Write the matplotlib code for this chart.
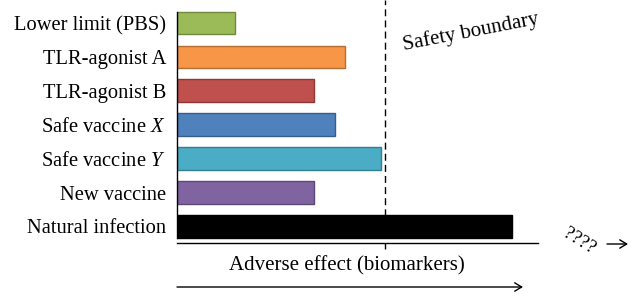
import matplotlib
matplotlib.use("Agg")
import matplotlib.pyplot as plt

plt.rcParams['font.family'] = ['Liberation Serif', 'DejaVu Serif']
plt.rcParams['mathtext.fontset'] = 'custom'
plt.rcParams['mathtext.rm'] = 'Liberation Serif'
plt.rcParams['mathtext.it'] = 'Liberation Serif:italic'

categories = ["Lower limit (PBS)", "TLR-agonist A", "TLR-agonist B",
              "Safe vaccine $X$", "Safe vaccine $Y$", "New vaccine", "Natural infection"]
values = [0.28, 0.81, 0.66, 0.76, 0.98, 0.66, 1.61]
colors = ["#9BBB59", "#F79646", "#C0504D", "#4F81BD", "#4BACC6", "#8064A2", "#000000"]
edges = ["#71893F", "#B66D31", "#8C3836", "#385D8A", "#357D91", "#5C4776", "#000000"]
boundary = 1.0

fig = plt.figure(figsize=(6.39, 2.98), dpi=100)
ax = fig.add_axes([177/639, 55/298, 361/639, 243/298])

ypos = list(range(len(categories)))
ax.barh(ypos, values, height=0.67, color=colors, edgecolor=edges, linewidth=1.0, zorder=3)
ax.set_ylim(6.49, -0.68)
ax.set_xlim(0, 1.736)

for s in ['top', 'right', 'left']:
    ax.spines[s].set_visible(False)
ax.spines['bottom'].set_linewidth(1.0)

# left spine only spanning the bars
ax.plot([0, 0], [-0.335, 6.335], color='black', lw=1.0, zorder=4, clip_on=False)

ax.set_yticks(ypos)
ax.set_yticklabels(categories, fontsize=14.8)
ax.tick_params(axis='y', length=0, pad=8)
ax.set_xticks([boundary])
ax.set_xticklabels([""])
ax.tick_params(axis='x', length=4, width=1.0, direction='out')

ax.axvline(boundary, ymin=0.02, ymax=1.0, color='black', lw=1.0, linestyle=(0, (5, 3)), zorder=2)

fig.text(471/639, 1 - 32/298, "Safety boundary", fontsize=15, rotation=11,
         ha='center', va='center')
fig.text(579/639, 1 - 241/298, "????", fontsize=14, rotation=-32,
         ha='center', va='center')
fig.add_artist(matplotlib.patches.FancyArrowPatch(
    (607/639, 1 - 244/298), (628/639, 1 - 244/298), transform=fig.transFigure,
    arrowstyle='->,head_length=5,head_width=3', color='black', lw=1.0,
    shrinkA=0, shrinkB=0))
fig.text(347/639, 1 - 266/298, "Adverse effect (biomarkers)", fontsize=15,
         ha='center', va='center')
fig.add_artist(matplotlib.patches.FancyArrowPatch(
    (177/639, 1 - 287/298), (523/639, 1 - 287/298), transform=fig.transFigure,
    arrowstyle='->,head_length=5,head_width=3', color='black', lw=1.0,
    shrinkA=0, shrinkB=0))

fig.savefig("out.png", dpi=100)
